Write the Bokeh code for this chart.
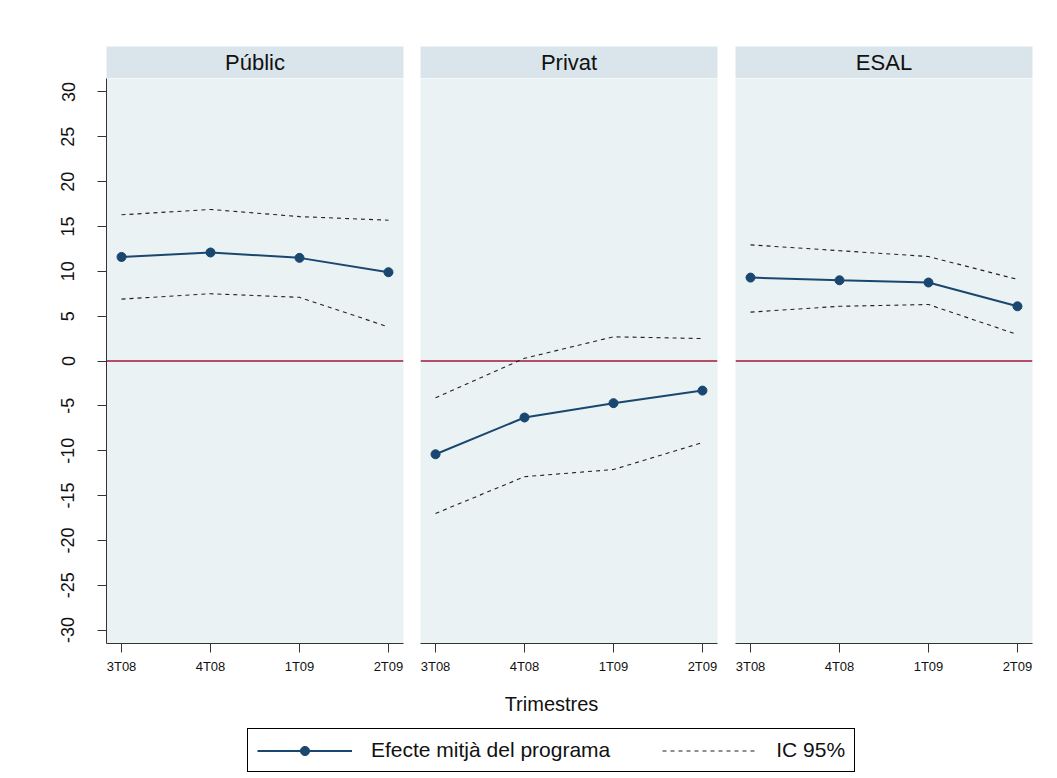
from bokeh.plotting import figure
from bokeh.layouts import column, row
from bokeh.models import FixedTicker, Span, Label, Legend, LegendItem, Range1d
from bokeh.core.properties import value
from bokeh.embed import file_html
from bokeh.resources import INLINE

# ---------------- data ----------------
quarters = ["3T08", "4T08", "1T09", "2T09"]
panels = ["Públic", "Privat", "ESAL"]

mean_public = [11.6, 12.1, 11.5, 9.9]
upper_public = [16.3, 16.9, 16.1, 15.7]
lower_public = [6.9, 7.5, 7.1, 3.8]

mean_privat = [-10.4, -6.3, -4.7, -3.3]
upper_privat = [-4.1, 0.3, 2.7, 2.5]
lower_privat = [-17.0, -12.9, -12.1, -9.1]

mean_esal = [9.3, 9.0, 8.75, 6.1]
upper_esal = [12.95, 12.3, 11.65, 9.1]
lower_esal = [5.45, 6.1, 6.3, 2.95]

y_ticks = list(range(-30, 31, 5))
legend_labels = ["Efecte mitjà del programa", "IC 95%"]
x_title = "Trimestres"

# ---------------- style ----------------
FONT = "Liberation Sans"
NAVY = "#1a476f"
RED = "#a3173c"
DASH = "#222222"
BG = "#eaf2f3"
HEADER = "#d9e5eb"
AXIS = "#333333"

x_idx = list(range(len(quarters)))


def make_panel(name, mean, lo, hi, width, bl, br, show_y):
    header = figure(width=width, height=78, x_range=(0, 1), y_range=(0, 1),
                    min_border_left=bl, min_border_right=br, min_border_top=46,
                    min_border_bottom=0, toolbar_location=None, output_backend="svg",
                    x_axis_location=None, y_axis_location=None,
                    background_fill_color=HEADER, border_fill_color="white",
                    outline_line_color=None)
    header.grid.visible = False
    header.add_layout(Label(x=0.5, y=0.5, text=name, text_align="center",
                            text_baseline="middle", text_font=FONT,
                            text_font_size="22px", text_color="#111111"))

    p = figure(width=width, height=602, x_range=(-0.169, 3.169), y_range=(-31.5, 31.5),
               min_border_left=bl, min_border_right=br, min_border_top=0,
               min_border_bottom=37, toolbar_location=None, output_backend="svg",
               y_axis_location="left" if show_y else None,
               background_fill_color=BG, border_fill_color="white",
               outline_line_color=None)
    p.grid.visible = False
    p.add_layout(Span(location=0, dimension="width", line_color=RED,
                      line_width=1.3, level="underlay"))
    p.line(x_idx, hi, line_dash="4 4", line_color=DASH, line_width=1.1)
    p.line(x_idx, lo, line_dash="4 4", line_color=DASH, line_width=1.1)
    p.line(x_idx, mean, line_color=NAVY, line_width=2)
    p.scatter(x_idx, mean, size=9, color=NAVY)

    ax = p.xaxis[0]
    ax.ticker = FixedTicker(ticks=x_idx)
    ax.major_label_overrides = {i: q for i, q in enumerate(quarters)}
    ax.major_tick_out = 9
    ax.major_tick_in = 0
    ax.minor_tick_out = 0
    ax.minor_tick_in = 0
    ax.axis_line_color = AXIS
    ax.major_tick_line_color = AXIS
    ax.major_label_text_font = FONT
    ax.major_label_text_font_size = "13px"
    ax.major_label_text_color = "#111111"
    ax.major_label_standoff = 6

    if show_y:
        ay = p.yaxis[0]
        ay.ticker = FixedTicker(ticks=y_ticks)
        ay.major_label_overrides = {t: str(t) for t in y_ticks}
        ay.major_label_orientation = "vertical"
        ay.major_tick_out = 9
        ay.major_tick_in = 0
        ay.minor_tick_out = 0
        ay.minor_tick_in = 0
        ay.axis_line_color = AXIS
        ay.major_tick_line_color = AXIS
        ay.major_label_text_font = FONT
        ay.major_label_text_font_size = "18px"
        ay.major_label_text_color = "#111111"
        ay.major_label_standoff = 23

    return column(header, p, spacing=0)


c1 = make_panel(panels[0], mean_public, lower_public, upper_public, 411, 106, 8, True)
c2 = make_panel(panels[1], mean_privat, lower_privat, upper_privat, 314, 9, 8, False)
c3 = make_panel(panels[2], mean_esal, lower_esal, upper_esal, 315, 10, 8, False)

# bottom area: x title + legend
pb = figure(width=1040, height=96, x_range=(0, 1040), y_range=(0, 96),
            min_border_left=0, min_border_right=0, min_border_top=0, min_border_bottom=0,
            toolbar_location=None, output_backend="svg",
            x_axis_location=None, y_axis_location=None,
            background_fill_color="white", border_fill_color="white",
            outline_line_color=None)
pb.grid.visible = False
pb.extra_y_ranges = {"hidden": Range1d(1000, 1001)}
pb.add_layout(Label(x=551, y=73, text=x_title, text_align="center",
                    text_baseline="middle", text_font=FONT, text_font_size="20px",
                    text_color="#111111"))
# legend proxies: real series drawn on an off-screen range
r1 = pb.line(x_idx, mean_public, line_color=NAVY, line_width=2, y_range_name="hidden")
r2 = pb.scatter(x_idx, mean_public, size=9, color=NAVY, y_range_name="hidden")
r3 = pb.line(x_idx, upper_public, line_dash="4 4", line_color=DASH, line_width=1.1,
             y_range_name="hidden")
legend = Legend(items=[LegendItem(label=value(legend_labels[0]), renderers=[r1, r2]),
                       LegendItem(label=value(legend_labels[1]), renderers=[r3])],
                orientation="horizontal", location=(247, 4),
                glyph_width=95, glyph_height=23, label_height=23,
                label_standoff=19, spacing=52, padding=9, margin=0,
                border_line_color="black", border_line_width=1, border_line_alpha=1,
                background_fill_color="white", background_fill_alpha=1,
                label_text_font=FONT, label_text_font_size="21px",
                label_text_color="#111111")
pb.add_layout(legend)

p = column(row(c1, c2, c3, spacing=0), pb, spacing=0)

open("out.html", "w").write(file_html(p, INLINE))
